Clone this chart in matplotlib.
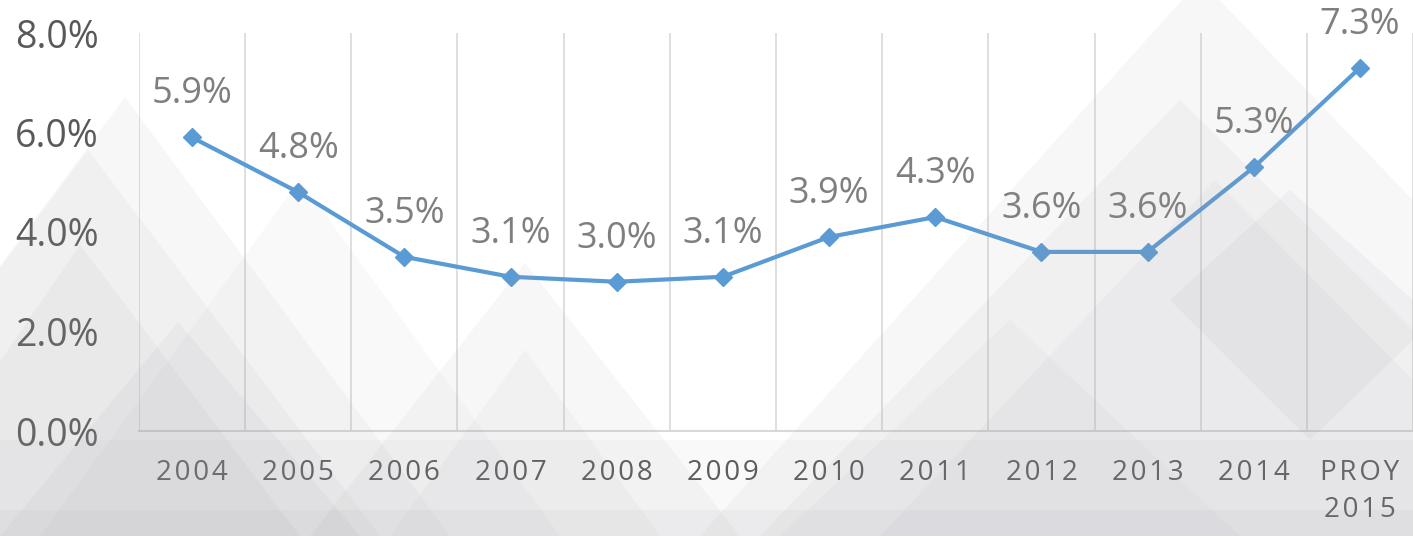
import matplotlib
matplotlib.use("Agg")
import matplotlib.pyplot as plt
from matplotlib.patches import Polygon
import numpy as np

categories = ["2004", "2005", "2006", "2007", "2008", "2009", "2010", "2011",
              "2012", "2013", "2014", "PROY\n2015"]
values = [5.9, 4.8, 3.5, 3.1, 3.0, 3.1, 3.9, 4.3, 3.6, 3.6, 5.3, 7.3]
yticks = [0, 2, 4, 6, 8]

W, H = 1413, 536
fig = plt.figure(figsize=(W / 100, H / 100), dpi=100)
fig.patch.set_facecolor("white")

# decorative background triangles (pixel coords, y from top)
def tri(pts, color, alpha):
    p = Polygon([(x / W, 1 - y / H) for x, y in pts], closed=True,
                transform=fig.transFigure, facecolor=color, edgecolor="none",
                alpha=alpha, zorder=0)
    fig.patches.append(p)

g = "#9a9aa0"
tri([(125, 97), (-200, 536), (450, 536)], g, 0.07)
tri([(88, 150), (-200, 536), (380, 536)], g, 0.07)
tri([(80, 245), (-120, 536), (300, 536)], g, 0.08)
tri([(178, 322), (0, 536), (360, 536)], g, 0.08)
tri([(300, 180), (40, 536), (560, 536)], g, 0.05)
tri([(525, 263), (310, 536), (740, 536)], g, 0.07)
tri([(525, 350), (390, 536), (660, 536)], g, 0.06)
tri([(1200, -20), (700, 536), (1413, 536), (1413, 200)], g, 0.07)
tri([(1180, 100), (760, 536), (1413, 536), (1413, 330)], g, 0.07)
tri([(1215, 180), (880, 536), (1413, 536), (1413, 380)], g, 0.06)
tri([(1290, 190), (1170, 300), (1310, 440), (1413, 340), (1413, 300)], g, 0.08)
tri([(1010, 320), (780, 536), (1240, 536)], g, 0.05)
tri([(0, 440), (1413, 440), (1413, 536), (0, 536)], g, 0.05)
tri([(0, 510), (1413, 510), (1413, 536), (0, 536)], g, 0.07)

ax = fig.add_axes([139 / W, 105 / H, 1 - 139 / W, (431 - 33) / H])
ax.set_facecolor("none")
x = np.arange(len(categories))
ax.plot(x, values, color="#5b9bd5", lw=3, marker="D", markersize=9,
        zorder=4, clip_on=False)

for xi, v in zip(x, values):
    ax.annotate(f"{v:.1f}%", (xi, v), xytext=(0, 31), textcoords="offset points",
                ha="center", va="center", fontsize=26, color="#7f7f7f",
                family=["Open Sans", "DejaVu Sans"], zorder=5,
                annotation_clip=False)

ax.set_xlim(-0.5, len(categories) - 0.5)
ax.set_ylim(0, 8)
ax.set_yticks(yticks)
ax.set_yticklabels([f"{t:.1f}%" for t in yticks], fontsize=27, color="#595959",
                   family=["Open Sans", "DejaVu Sans"])
ax.set_xticks(x)
sp = "\u200a"
def spaced(c):
    return "\n".join(sp.join(list(part)) for part in c.split("\n"))
ax.set_xticklabels([spaced(c) for c in categories], fontsize=20, color="#595959",
                   family=["Open Sans", "DejaVu Sans"], linespacing=1.45,
                   va="top")
ax.tick_params(axis="y", length=0, pad=29)
ax.tick_params(axis="x", length=0, pad=20)

for b in np.arange(-0.5, len(categories) + 0.5, 1):
    ax.axvline(b, color="#d9d9d9", lw=1.2, zorder=1)

for s in ["top", "right", "left"]:
    ax.spines[s].set_visible(False)
ax.spines["bottom"].set_color("#d9d9d9")
ax.spines["bottom"].set_linewidth(1.5)

fig.savefig("out.png", dpi=100)
